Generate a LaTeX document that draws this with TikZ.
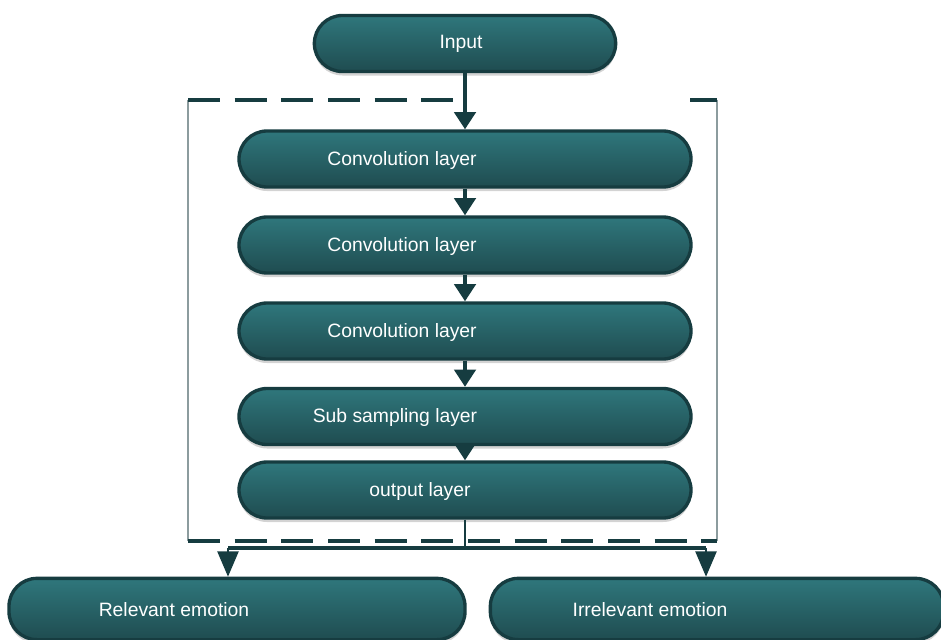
\documentclass[tikz,border=0pt]{standalone}
\usepackage{fontspec}
\setmainfont{Liberation Sans}
\usetikzlibrary{arrows.meta,shadows}

\definecolor{tealtop}{HTML}{2F777C}
\definecolor{tealbot}{HTML}{1F4C50}
\definecolor{tealedge}{HTML}{163C40}
\definecolor{sidegray}{HTML}{8C9C9E}

\tikzset{
	layer/.style={rectangle, rounded corners=21pt, draw=tealedge, line width=2.5pt,
		top color=tealtop, bottom color=tealbot, minimum height=42pt, inner sep=0pt,
		drop shadow={shadow xshift=0pt, shadow yshift=-3pt, opacity=0.35}},
	lbl/.style={text=white, font=\fontsize{14.5}{16}\selectfont, inner sep=0pt},
	flow/.style={draw=tealedge, line width=3pt, -{Triangle[width=16pt,length=13pt]}},
	split/.style={draw=tealedge, line width=1pt, -{Triangle[width=16pt,length=19pt]}},
	frame/.style={draw=tealedge, line width=3pt, dash pattern=on 24pt off 11pt},
}

\begin{document}
\begin{tikzpicture}[x=0.75pt, y=-0.75pt]
			%%%%% START %%%%%
			\useasboundingbox (0, 0) rectangle (941, 639);
			
			% dashed frame round the network
			\draw[sidegray, line width=0.8pt] (188, 100) -- (188, 541);
			\draw[sidegray, line width=0.8pt] (717, 100) -- (717, 541);
			\draw[frame] (188, 100) -- (465, 100);
			\draw[draw=tealedge, line width=3pt] (690, 100) -- (717, 100);
			\draw[frame] (188, 541) -- (717, 541);
			
			% boxes
			\node[layer, minimum width=226pt] (in) at (465, 43.5) {};
			\node[layer, minimum width=339pt] (c1) at (465, 159) {};
			\node[layer, minimum width=339pt] (c2) at (465, 245) {};
			\node[layer, minimum width=339pt] (c3) at (465, 331) {};
			\node[layer, minimum width=339pt] (ss) at (465, 416.5) {};
			\node[layer, minimum width=339pt] (ol) at (465, 490) {};
			\node[layer, minimum width=342pt, minimum height=46pt] (re) at (237, 609) {};
			\node[layer, minimum width=340pt, minimum height=46pt] (ir) at (717, 609) {};
			
			% texts
			\node[lbl] (tin) at (461, 44) {Input};
			\node[lbl] (tc1) at (402, 160) {Convolution layer};
			\node[lbl] (tc2) at (402, 246) {Convolution layer};
			\node[lbl] (tc3) at (402, 332) {Convolution layer};
			\node[lbl] (tss) at (395, 417) {Sub sampling layer};
			\node[lbl] (tol) at (420, 491) {output layer};
			\node[lbl] (tre) at (174, 610) {Relevant emotion};
			\node[lbl] (tir) at (650, 610) {Irrelevant emotion};
			
			% arrows
			\draw[flow] (in.south) -- (c1.north);
			\draw[flow] (c1.south) -- (c2.north);
			\draw[flow] (c2.south) -- (c3.north);
			\draw[flow] (c3.south) -- (ss.north);
			\draw[flow] (ss.south) -- (ol.north);
			
			\coordinate (mid) at (465, 548);
			\coordinate (jl) at (228, 548);
			\coordinate (jr) at (706, 548);
			\draw[draw=tealedge, line width=0.8pt] (ol.south) -- (mid);
			\draw[draw=tealedge, line width=3pt] (jl) -- (jr);
			\draw[split] (jl) -- (re.north -| jl);
			\draw[split] (jr) -- (ir.north -| jr);
			%%%%% END %%%%%
\end{tikzpicture}
\end{document}
